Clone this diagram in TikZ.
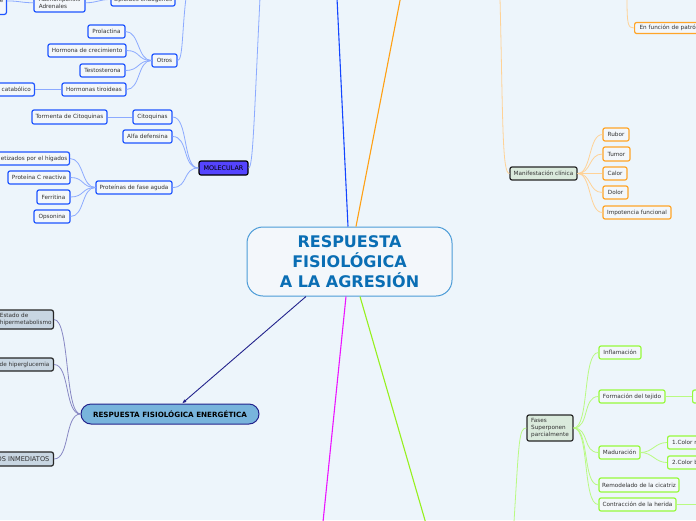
\documentclass[tikz,border=0pt]{standalone}
\usepackage{fontspec}
\setmainfont{DejaVu Sans}
\usetikzlibrary{arrows.meta}
\definecolor{bgc}{RGB}{237,245,251}
\definecolor{nfill}{RGB}{243,247,251}
\definecolor{txt}{RGB}{50,50,50}
\definecolor{nblue}{RGB}{30,85,255}
\definecolor{lblue}{RGB}{140,170,255}
\definecolor{tblue}{RGB}{20,70,255}
\definecolor{norange}{RGB}{255,165,40}
\definecolor{lorange}{RGB}{255,210,150}
\definecolor{torange}{RGB}{255,160,20}
\definecolor{ngreen}{RGB}{150,250,60}
\definecolor{lgreen}{RGB}{185,250,130}
\definecolor{tgreen}{RGB}{150,240,30}
\definecolor{tmag}{RGB}{235,20,255}
\definecolor{navy}{RGB}{35,35,140}
\definecolor{enfill}{RGB}{120,180,220}
\definecolor{lnavy}{RGB}{135,135,195}
\definecolor{gfill}{RGB}{200,214,226}
\definecolor{molfill}{RGB}{85,68,255}
\definecolor{cborder}{RGB}{75,155,215}
\definecolor{ctext}{RGB}{10,110,180}
\definecolor{mfill}{RGB}{218,234,220}
\begin{document}
\begin{tikzpicture}[x=1pt,y=-1pt,
  lbl/.style={rounded corners=2pt, line width=1.2pt, inner sep=1pt, fill=nfill, text=txt,
    font=\fontsize{5.7}{6.7}\selectfont, minimum height=13},
  bbox/.style={lbl, draw=nblue},
  obox/.style={lbl, draw=norange},
  gbox/.style={lbl, draw=ngreen},
  kbox/.style={lbl, draw=black!85},
  cutleft/.style={anchor=east, align=right},
  cutright/.style={anchor=west, align=left},
  bcon/.style={draw=lblue, line width=0.8pt},
  ocon/.style={draw=lorange, line width=0.8pt},
  gcon/.style={draw=lgreen, line width=0.8pt},
  ncon/.style={draw=lnavy, line width=0.8pt},
  trunk/.style={line width=1.1pt}
]
\useasboundingbox (0,0) rectangle (696,520);
\fill[bgc] (0,0) rectangle (696,520);
\clip (0,0) rectangle (696,520);

% ---------- centre ----------
\node[draw=cborder, line width=1pt, fill=nfill, rounded corners=16pt,
      minimum width=205, minimum height=69, align=center, text=ctext,
      font=\bfseries\fontsize{16}{20}\selectfont] (root) at (349.5,261.5)
      {RESPUESTA\\FISIOLÓGICA\\A LA AGRESIÓN};

% ---------- top-left (blue) ----------
\node[bbox, anchor=south east, text width=30, align=right, inner xsep=3, minimum height=27] (ltop) at (7,15) {e};
\node[bbox, minimum width=51, minimum height=18.5, align=left] (adeno) at (59.5,2.75) {Adenohipófisis\\Adrenales};
\node[bbox, minimum width=64] (opio) at (143,-0.5) {Opioides endógenos};
\node[bbox, minimum width=25] (otros) at (164.5,60.5) {Otros};
\node[bbox, minimum width=37] (prol) at (106.5,31.5) {Prolactina};
\node[bbox, minimum width=78] (hcrec) at (87,50.5) {Hormona de crecimiento};
\node[bbox, minimum width=45] (testo) at (102.5,70.5) {Testosterona};
\node[bbox, minimum width=64] (htiro) at (94,89.5) {Hormonas tiroideas};
\node[bbox, cutleft, text width=52, inner xsep=3.5] (ecat) at (35,89.5) {e catabólico};

\node[bbox, minimum width=75, minimum height=14] (torm) at (69.5,117) {Tormenta de Citoquinas};
\node[bbox, minimum width=39, minimum height=14] (cito) at (152.5,117) {Citoquinas};
\node[bbox, minimum width=49] (alfa) at (147.5,136.5) {Alfa defensina};
\node[lbl, draw=black, fill=molfill, text=black, font=\fontsize{6.4}{7}\selectfont,
      minimum width=49, minimum height=14] (mol) at (223.5,168) {MOLECULAR};
\node[bbox, minimum width=76] (pfa) at (134,187.5) {Proteínas de fase aguda};
\node[bbox, cutleft, text width=84, inner xsep=2] (sint) at (70,158.5) {etizados por el hígados};
\node[bbox, minimum width=62] (pcr) at (39,177.5) {Proteína C reactiva};
\node[bbox, minimum width=33, minimum height=14] (ferr) at (53.5,197) {Ferritina};
\node[bbox, minimum width=36] (opso) at (52,216.5) {Opsonina};

\coordinate (otop) at (186,-2);
\coordinate (mtop) at (260,-2);
\draw[bcon] (ltop.east) .. controls +(12,0) and +(-12,0) .. (adeno.west);
\draw[bcon] (adeno.east) .. controls +(12,0) and +(-12,0) .. (opio.west);
\draw[bcon] (opio.east) .. controls (183,-0.5) .. (otop);
\draw[bcon] (otros.east) .. controls (183,60.5) and (182,30) .. (otop);
\foreach \c in {prol,hcrec,testo,htiro}
  \draw[bcon] (otros.west) .. controls +(-14,0) and +(14,0) .. (\c.east);
\draw[bcon] (htiro.west) -- (ecat.east);
\draw[bcon] (torm.east) -- (cito.west);
\foreach \c in {cito,alfa,pfa}
  \draw[bcon] (mol.west) .. controls +(-16,0) and +(16,0) .. (\c.east);
\foreach \c in {sint,pcr,ferr,opso}
  \draw[bcon] (pfa.west) .. controls +(-14,0) and +(14,0) .. (\c.east);
\draw[bcon] (mol.east) .. controls (253,168) and (254,120) .. (mtop);

% ---------- energetica ----------
\node[draw=navy, line width=1pt, fill=enfill, rounded corners=10pt, text=black,
      font=\bfseries\fontsize{7.2}{8}\selectfont, minimum width=178, minimum height=20] (ener) at (170,414)
      {RESPUESTA FISIOLÓGICA ENERGÉTICA};
\node[kbox, fill=gfill, anchor=east, align=left, text width=51, inner xsep=2.5, minimum height=19] (hmet) at (54,319.5)
      {Estado de\\hipermetabolismo};
\node[kbox, fill=gfill, cutleft, text width=60, inner xsep=4] (hglu) at (54,364.5) {de hiperglucemia};
\node[kbox, fill=gfill, cutleft, text width=60, inner xsep=4, minimum height=14,
      font=\fontsize{6.6}{7}\selectfont] (inme) at (54,459) {BIOS INMEDIATOS};
\foreach \c in {hmet,hglu,inme}
  \draw[ncon] (ener.west) .. controls +(-16,0) and +(16,0) .. (\c.east);

% ---------- orange ----------
\node[obox, cutright, minimum height=11, text width=80, inner xsep=5] (efun) at (634,28) {En función de patrón};
\node[kbox, fill=mfill, minimum width=67] (manif) at (543.5,173.5) {Manifestación clínica};
\node[obox, minimum width=26] (rubor) at (616,134.5) {Rubor};
\node[obox, minimum width=27, minimum height=14] (tumor) at (616.5,154) {Tumor};
\node[obox, minimum width=24] (calor) at (615,173.5) {Calor};
\node[obox, minimum width=25] (dolor) at (615.5,192.5) {Dolor};
\node[obox, minimum width=68] (impo) at (637,212.5) {Impotencia funcional};
\coordinate (eftop) at (627,-2);
\coordinate (ortop) at (500,-2);
\draw[ocon] (eftop) .. controls (627,25) and (628,28) .. (efun.west);
\draw[ocon] (ortop) .. controls (503,120) and (502,173.5) .. (manif.west);
\foreach \c in {rubor,tumor,calor,dolor,impo}
  \draw[ocon] (manif.east) .. controls +(14,0) and +(-14,0) .. (\c.west);

% ---------- green ----------
\node[kbox, fill=mfill, minimum width=46, minimum height=26, align=left,
      font=\fontsize{5.7}{6.7}\selectfont] (fases) at (550,428) {Fases\\Superponen\\parcialmente};
\node[gbox, minimum width=42] (infl) at (620,352.5) {Inflamación};
\node[gbox, minimum width=66] (form) at (632,396.5) {Formación del tejido};
\node[gbox, anchor=west, minimum width=30] (formc) at (692,396.5) {};
\node[gbox, minimum width=41] (madu) at (619.5,452.5) {Maduración};
\node[gbox, cutright, text width=45, inner xsep=4.5] (col1) at (667,442.5) {1.Color r};
\node[gbox, cutright, text width=45, inner xsep=4.5] (col2) at (667,462.5) {2.Color b};
\node[gbox, minimum width=80, minimum height=14] (remo) at (639,485) {Remodelado de la cicatriz};
\node[gbox, minimum width=77] (contr) at (637.5,504.5) {Contracción de la herida};
\coordinate (fbot) at (514,522);
\coordinate (cright) at (698,504.5);
\draw[gcon] (fbot) .. controls (519,440) and (519,428) .. (fases.west);
\foreach \c in {infl,form,madu,remo,contr}
  \draw[gcon] (fases.east) .. controls +(16,0) and +(-16,0) .. (\c.west);
\draw[gcon] (form.east) -- (formc.west);
\foreach \c in {col1,col2}
  \draw[gcon] (madu.east) .. controls +(12,0) and +(-12,0) .. (\c.west);
\draw[gcon] (contr.east) -- (cright);

% ---------- trunks ----------
\coordinate (btop) at (337,-2);
\coordinate (otop2) at (400.5,-2);
\coordinate (mbot) at (323,522);
\coordinate (gbot) at (425.5,522);
\draw[trunk, tblue] ([xshift=-1.5pt]root.north) -- (btop);
\draw[trunk, torange] ([xshift=6.5pt]root.north) -- (otop2);
\draw[trunk, tmag] ([xshift=-3.5pt]root.south) -- (mbot);
\draw[trunk, tgreen] ([xshift=10.5pt]root.south) -- (gbot);
\draw[line width=0.9pt, navy, -{Latex[length=4.5pt,width=3.5pt]}] ([xshift=-43.5pt]root.south) -- ([xshift=12pt]ener.north);
\end{tikzpicture}
\end{document}
